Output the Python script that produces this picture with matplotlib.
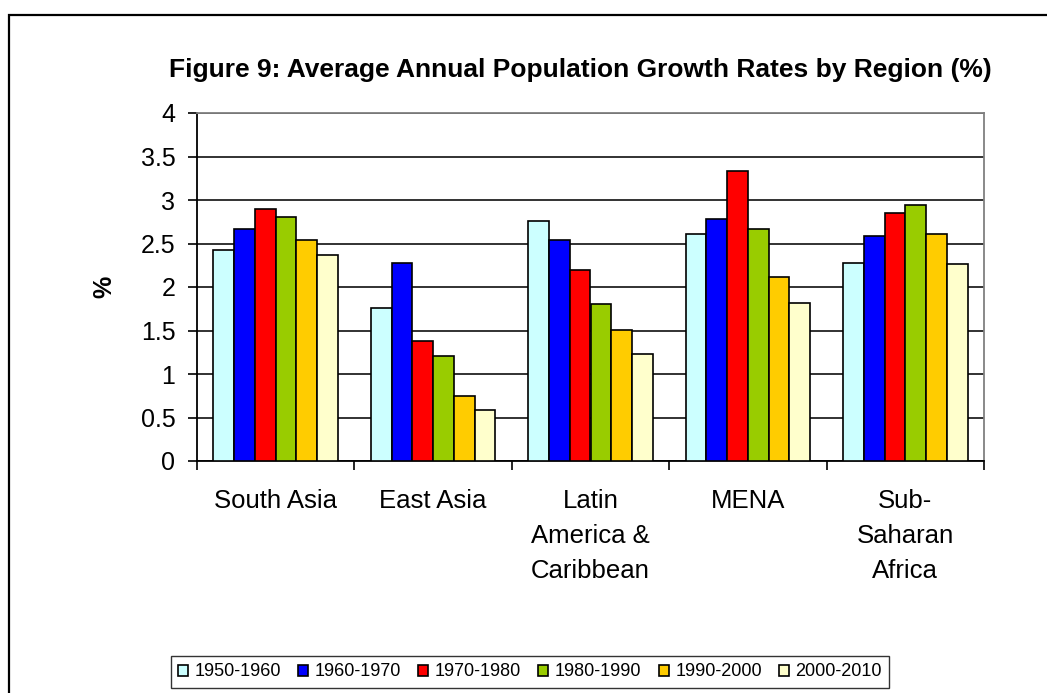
import numpy as np
import matplotlib
matplotlib.use("Agg")
import matplotlib.pyplot as plt
from matplotlib.patches import Rectangle

plt.rcParams['font.family'] = ['Liberation Sans', 'DejaVu Sans']

# Data
regions = ["South Asia", "East Asia", "Latin\nAmerica &\nCaribbean", "MENA", "Sub-\nSaharan\nAfrica"]
periods = ["1950-1960", "1960-1970", "1970-1980", "1980-1990", "1990-2000", "2000-2010"]
rates = {
    "1950-1960": [2.43, 1.76, 2.76, 2.61, 2.28],
    "1960-1970": [2.67, 2.28, 2.54, 2.78, 2.59],
    "1970-1980": [2.90, 1.38, 2.20, 3.33, 2.85],
    "1980-1990": [2.80, 1.21, 1.80, 2.67, 2.94],
    "1990-2000": [2.54, 0.75, 1.51, 2.11, 2.61],
    "2000-2010": [2.37, 0.59, 1.23, 1.82, 2.26],
}
colors = ["#CCFFFF", "#0000FF", "#FF0000", "#99CC00", "#FFCC00", "#FFFFCC"]

W, H = 1047, 693
fig = plt.figure(figsize=(W / 100, H / 100), dpi=100)
ax = fig.add_axes([197 / W, 1 - 461 / H, (984 - 197) / W, (461 - 113) / H])

# outer chart frame
fig.patches.append(Rectangle((8.5 / W, -0.1), 1.2, 1 - 15.5 / H + 0.1,
                             transform=fig.transFigure, fill=False,
                             edgecolor="black", linewidth=1.6))

x = np.arange(len(regions))
bw = 0.132
for i, p in enumerate(periods):
    ax.bar(x + (i - 2.5) * bw, rates[p], width=bw, color=colors[i],
           edgecolor="black", linewidth=1.2, label=p, zorder=3)

ax.set_xlim(-0.5, len(regions) - 0.5)
ax.set_ylim(0, 4)
ax.set_yticks(np.arange(0, 4.01, 0.5))
ax.set_yticklabels(["0", "0.5", "1", "1.5", "2", "2.5", "3", "3.5", "4"])
ax.yaxis.grid(True, color="#222222", linewidth=1.3, zorder=0)
ax.set_axisbelow(True)

ax.set_xticks(x)
ax.set_xticklabels(regions, linespacing=1.58, va="top")
ax.set_xticks(np.arange(-0.5, len(regions), 1), minor=True)
ax.tick_params(axis="x", which="major", length=0, pad=20, labelsize=18.5)
ax.tick_params(axis="x", which="minor", length=6.5, width=1.2, direction="out")
ax.tick_params(axis="y", length=6.5, width=1.2, direction="out", labelsize=18, pad=9)

for s in ["left", "bottom"]:
    ax.spines[s].set_color("black")
    ax.spines[s].set_linewidth(1.3)
for s in ["top", "right"]:
    ax.spines[s].set_color("#808080")
    ax.spines[s].set_linewidth(1.3)

ax.set_ylabel("%", fontsize=18, fontweight="bold")
ax.yaxis.set_label_coords(-0.102, 0.5)
fig.text(580.5 / W, 1 - 70 / H, "Figure 9: Average Annual Population Growth Rates by Region (%)",
         ha="center", va="center", fontsize=19, fontweight="bold")

leg = fig.legend(loc="center", bbox_to_anchor=(530 / W, 1 - 672 / H), ncol=6,
                 fontsize=13, frameon=True, fancybox=False, edgecolor="black",
                 handlelength=0.55, handleheight=0.55, handletextpad=0.37,
                 columnspacing=0.95, borderpad=0.4, borderaxespad=0)
leg.get_frame().set_linewidth(1.0)

fig.savefig("out.png", dpi=100)
